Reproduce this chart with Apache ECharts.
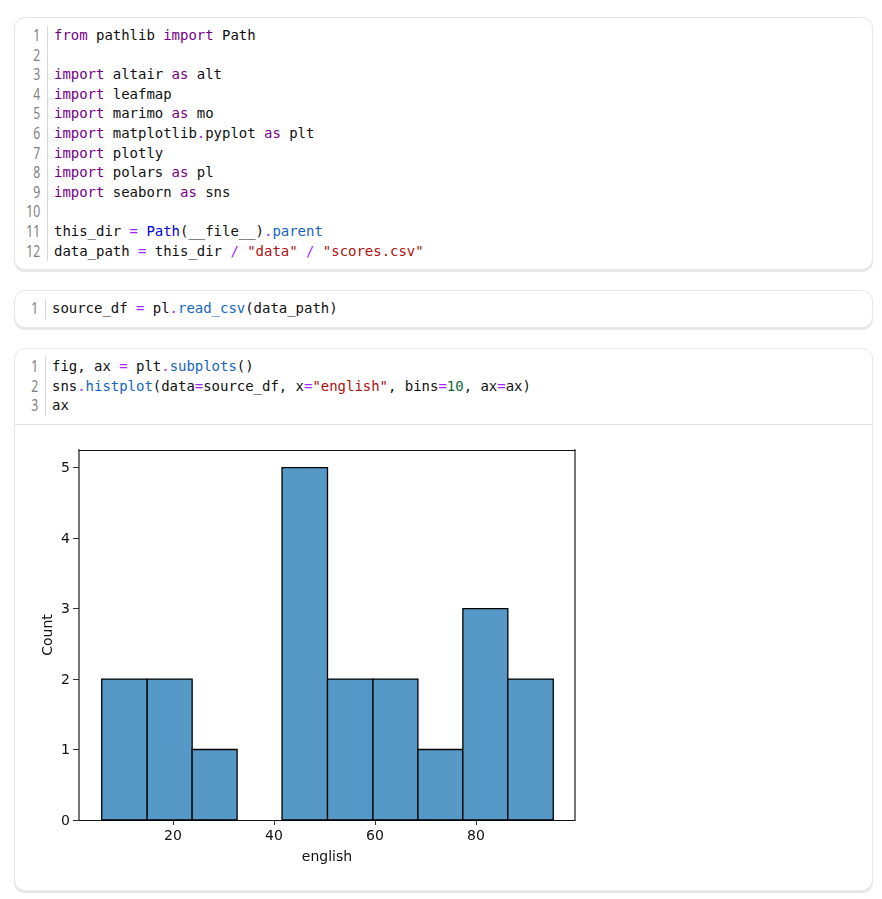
<!DOCTYPE html>
<html>
<head>
<meta charset="utf-8">
<script src="https://cdn.jsdelivr.net/npm/echarts@6/dist/echarts.min.js"></script>
<style>
html, body { margin: 0; padding: 0; background: #fff; }
body { width: 882px; height: 899px; position: relative; overflow: hidden; }
.card { position: absolute; left: 14px; width: 859px; box-sizing: border-box; background: #fff;
	border: 1px solid #e8e8e8; border-radius: 11px; box-shadow: 0 2px 1px #e6e6e6; }
.cell { position: absolute; left: 0; }
.nums { position: absolute; left: 0; top: 0; width: 30px; border-right: 1px solid #d6d6d6;
	text-align: right; font: 16px/19.6px "Noto Sans", sans-serif; color: #808080; }
.nums span { display: block; padding-right: 9px; transform: scaleX(0.76); transform-origin: right center; }
pre { position: absolute; top: 0; margin: 0; font: 14px/19.6px "DejaVu Sans Mono", monospace; color: #111; letter-spacing: -0.03px; }
.k { color: #770088; }
.o { color: #a626ff; }
.f { color: #1565c0; }
.d { color: #0000d8; }
.s { color: #aa1111; }
.n { color: #116644; }
#divider { position: absolute; left: 0; right: 0; top: 75px; border-top: 1px solid #e2e2e2; }
#chart { position: absolute; left: 15px; top: 425px; width: 856px; height: 464px; }
</style>
</head>
<body>

<div class="card" style="top:17px;height:253px">
	<div class="cell" style="top:8px">
		<div class="nums" style="width:32px"><span>1</span><span>2</span><span>3</span><span>4</span><span>5</span><span>6</span><span>7</span><span>8</span><span>9</span><span>10</span><span>11</span><span>12</span></div>
<pre style="left:39px"><span class="k">from</span> pathlib <span class="k">import</span> Path

<span class="k">import</span> altair <span class="k">as</span> alt
<span class="k">import</span> leafmap
<span class="k">import</span> marimo <span class="k">as</span> mo
<span class="k">import</span> matplotlib<span class="o">.</span>pyplot <span class="k">as</span> plt
<span class="k">import</span> plotly
<span class="k">import</span> polars <span class="k">as</span> pl
<span class="k">import</span> seaborn <span class="k">as</span> sns

this_dir <span class="o">=</span> <span class="d">Path</span>(__file__)<span class="o">.</span><span class="f">parent</span>
data_path <span class="o">=</span> this_dir <span class="o">/</span> <span class="s">"data"</span> <span class="o">/</span> <span class="s">"scores.csv"</span></pre>
	</div>
</div>

<div class="card" style="top:290px;height:38px">
	<div class="cell" style="top:8px">
		<div class="nums"><span>1</span></div>
<pre style="left:37px">source_df <span class="o">=</span> pl<span class="o">.</span><span class="f">read_csv</span>(data_path)</pre>
	</div>
</div>

<div class="card" style="top:348px;height:543px">
	<div class="cell" style="top:8px">
		<div class="nums"><span>1</span><span>2</span><span>3</span></div>
<pre style="left:37px">fig, ax <span class="o">=</span> plt<span class="o">.</span><span class="f">subplots</span>()
sns<span class="o">.</span><span class="f">histplot</span>(data<span class="o">=</span>source_df, x<span class="o">=</span><span class="s">"english"</span>, bins<span class="o">=</span><span class="n">10</span>, ax<span class="o">=</span>ax)
ax</pre>
	</div>
	<div id="divider"></div>
</div>

<div id="chart"></div>

<script>
// histogram values
var binEdges = [5.9, 14.9, 23.8, 32.7, 41.6, 50.6, 59.6, 68.5, 77.4, 86.3, 95.3];
var binCounts = [2, 2, 1, 0, 5, 2, 2, 1, 3, 2];
var xTicks = [20, 40, 60, 80];
var yTicks = [0, 1, 2, 3, 4, 5];

var chartFont = '"DejaVu Sans", sans-serif';
var bars = [];
for (var i = 0; i < binCounts.length; i++) {
	bars.push([binEdges[i], binEdges[i + 1], binCounts[i]]);
}

// the vertical frame lines straddle two pixels in the reference, so they read as grey
var sideLine = { show: true, onZero: false, lineStyle: { color: '#777', width: 2 } };
var flatLine = { show: true, onZero: false, lineStyle: { color: '#111', width: 1 } };

var chart = echarts.init(document.getElementById('chart'));
chart.setOption({
	animation: false,
	grid: { left: 64, top: 25, width: 496, height: 370 },
	xAxis: [{
		type: 'value', min: 1.4, max: 99.6,
		name: 'english', nameLocation: 'middle', nameGap: 30,
		nameTextStyle: { color: '#111', fontFamily: chartFont, fontSize: 14 },
		splitLine: { show: false },
		axisLine: flatLine,
		axisTick: { show: true, length: 5, customValues: xTicks, lineStyle: { color: '#333' } },
		axisLabel: { customValues: xTicks, color: '#111', fontFamily: chartFont, fontSize: 14, margin: 9 }
	}, {
		type: 'value', min: 1.4, max: 99.6, position: 'top',
		splitLine: { show: false }, axisLine: flatLine, axisTick: { show: false }, axisLabel: { show: false }
	}],
	yAxis: [{
		type: 'value', min: 0, max: 5.25,
		name: 'Count', nameLocation: 'middle', nameGap: 24, nameMoveOverlap: false,
		nameTextStyle: { color: '#111', fontFamily: chartFont, fontSize: 14 },
		splitLine: { show: false },
		axisLine: sideLine,
		axisTick: { show: true, length: 6, customValues: yTicks, lineStyle: { color: '#333' } },
		// top aligned with a 2px line box puts the digits 1px below the tick, as in the reference
		axisLabel: { customValues: yTicks, color: '#111', fontFamily: chartFont, fontSize: 14, margin: 9, verticalAlign: 'top', lineHeight: 2 }
	}, {
		type: 'value', min: 0, max: 5.25, position: 'right',
		splitLine: { show: false }, axisLine: sideLine, axisTick: { show: false }, axisLabel: { show: false }
	}],
	series: [{
		type: 'custom',
		data: bars,
		encode: { x: [0, 1], y: 2 },
		z: 1,
		clip: false,
		renderItem: function (params, api) {
			if (!api.value(2)) return null;
			var p0 = api.coord([api.value(0), api.value(2)]);
			var p1 = api.coord([api.value(1), 0]);
			return {
				type: 'rect',
				shape: { x: p0[0], y: p0[1], width: p1[0] - p0[0], height: p1[1] - p0[1] },
				style: { fill: '#5799c6', stroke: '#000', lineWidth: 1.3 }
			};
		}
	}]
});
</script>
</body>
</html>
